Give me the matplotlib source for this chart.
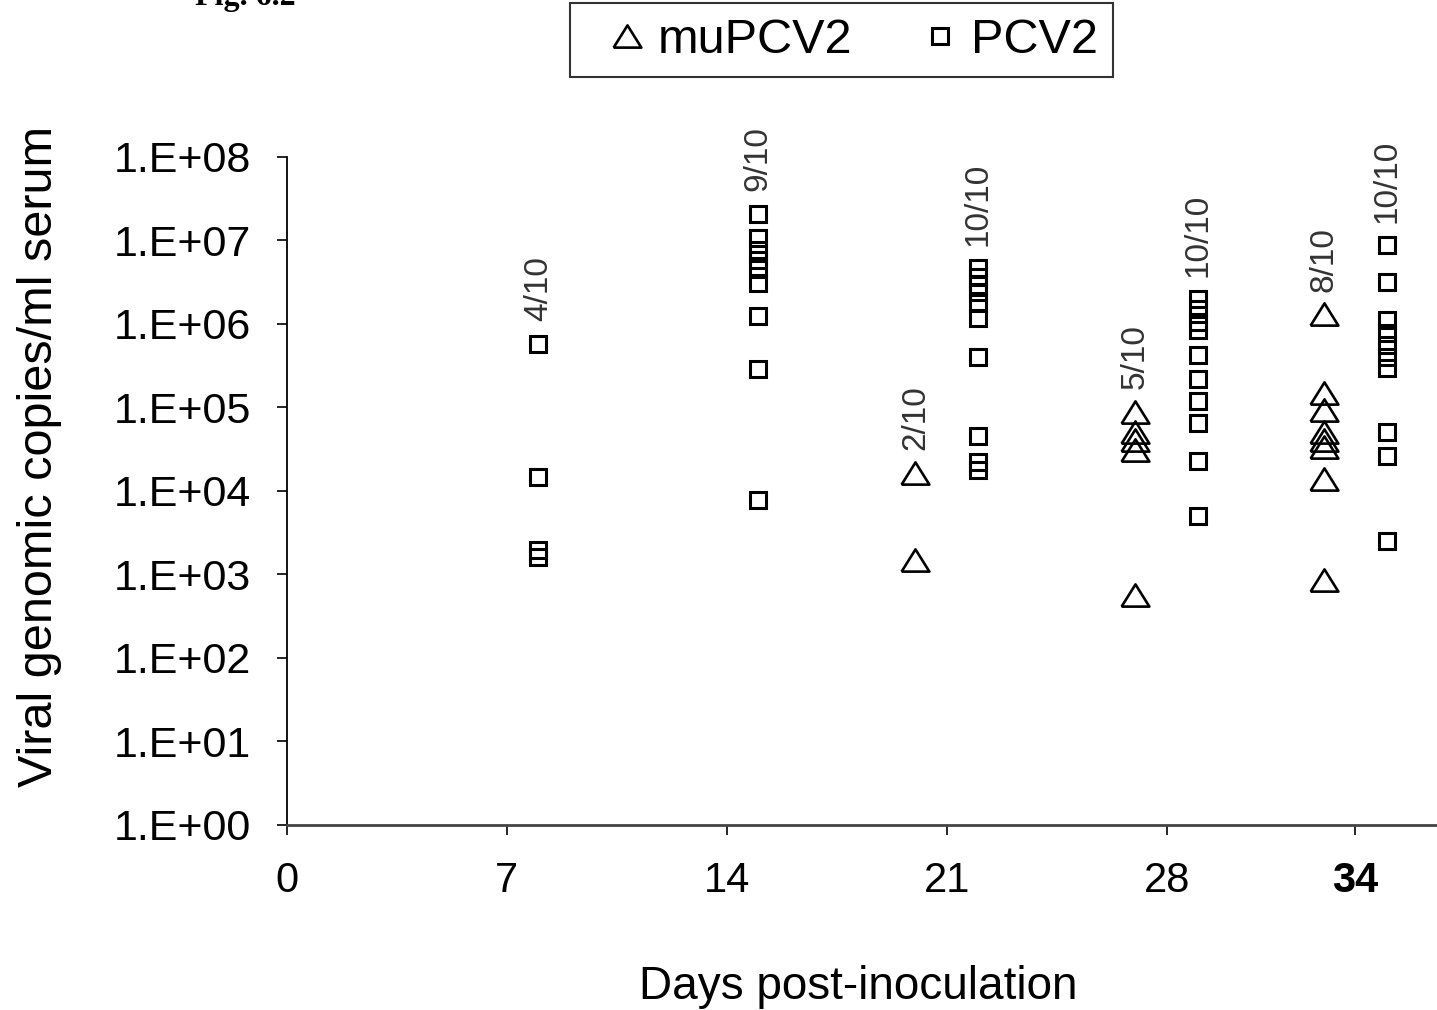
import numpy as np
import matplotlib
matplotlib.use("Agg")
import matplotlib.pyplot as plt
from matplotlib.ticker import FixedLocator, FixedFormatter

# global formatting
matplotlib.rcParams['font.family'] = ['Liberation Sans', 'DejaVu Sans']
matplotlib.rcParams['text.color'] = 'black'

# data: sampling day -> viral copies/ml serum
mu_days = [20, 27, 33]
mu_values = [
    [1.66e4, 1.5e3],
    [8.9e4, 5.1e4, 4.1e4, 3.1e4, 5.6e2],
    [1.3e6, 1.5e5, 9.3e4, 5.1e4, 4.1e4, 3.4e4, 1.4e4, 8.5e2],
]
mu_labels = ["2/10", "5/10", "8/10"]

pcv_days = [8, 15, 22, 29, 35]
pcv_values = [
    [5.8e5, 1.47e4, 1.96e3, 1.6e3],
    [2.1e7, 1.07e7, 7.7e6, 5.9e6, 4.5e6, 3.1e6, 1.25e6, 2.9e5, 7.8e3],
    [4.7e6, 3.7e6, 2.9e6, 2.4e6, 1.8e6, 1.18e6, 4.0e5, 4.6e4, 2.2e4, 1.8e4],
    [2.0e6, 1.5e6, 1.05e6, 8.5e5, 4.2e5, 2.2e5, 1.2e5, 6.5e4, 2.3e4, 5.0e3],
    [8.8e6, 3.2e6, 1.12e6, 7.8e5, 5.6e5, 4.0e5, 3.0e5, 5.1e4, 2.6e4, 2.5e3],
]
pcv_labels = ["4/10", "9/10", "10/10", "10/10", "10/10"]

x_ticks = [0, 7, 14, 21, 28, 34]
y_ticks = [10.0 ** k for k in range(0, 9)]
y_ticklabels = ["1.E+%02d" % k for k in range(0, 9)]

tri = [(-1, -0.8), (1, -0.8), (0, 0.8), (-1, -0.8)]

fig = plt.figure(figsize=(14.37, 10.10), dpi=100)
ax = fig.add_axes([0.1997, 0.1832, 0.8003, 0.6614])

for d, vals in zip(mu_days, mu_values):
    ax.plot([d] * len(vals), vals, linestyle='none', marker=tri, ms=20,
            mfc='none', mec='black', mew=1.9, label='muPCV2' if d == mu_days[0] else None)
for d, vals in zip(pcv_days, pcv_values):
    ax.plot([d] * len(vals), vals, linestyle='none', marker='s', ms=11,
            mfc='none', mec='black', mew=2.2, label='PCV2' if d == pcv_days[0] else None)

# n positive / n total above each group
for d, vals, lab in list(zip(mu_days, mu_values, mu_labels)) + list(zip(pcv_days, pcv_values, pcv_labels)):
    ax.annotate(lab, (d, max(vals)), xytext=(0, 16), textcoords='offset points',
                rotation=90, ha='center', va='bottom', fontsize=24, color='#333333')

ax.set_yscale('log')
ax.set_ylim(1, 1e8)
ax.set_xlim(0, 36.6)
ax.yaxis.set_major_locator(FixedLocator(y_ticks))
ax.yaxis.set_major_formatter(FixedFormatter(y_ticklabels))
ax.yaxis.set_minor_locator(FixedLocator([]))
ax.set_xticks(x_ticks)
ax.set_xticklabels([str(t) for t in x_ticks])
ax.get_xticklabels()[-1].set_fontweight('bold')

for s in ['top', 'right']:
    ax.spines[s].set_visible(False)
ax.spines['left'].set_linewidth(1.3)
ax.spines['bottom'].set_linewidth(2.0)
ax.spines['bottom'].set_color('#444444')
ax.tick_params(axis='both', direction='out', length=7, width=1.2, labelsize=30, pad=19)
ax.tick_params(axis='y', labelsize=31)

ax.set_ylabel('Viral genomic copies/ml serum', fontsize=35)
ax.yaxis.set_label_coords(-0.196, 0.551)
ax.set_xlabel('Days post-inoculation', fontsize=33)
ax.xaxis.set_label_coords(0.497, -0.21)

leg = fig.legend(loc='center', bbox_to_anchor=(0.5856, 0.960), ncol=2, fontsize=35,
                 frameon=True, fancybox=False, edgecolor='black', borderpad=0.3,
                 handletextpad=-0.23, columnspacing=0.95, handlelength=1.73)
leg.get_frame().set_linewidth(1.5)

fig.text(195 / 1437, 1 - 5 / 1010, 'Fig. 6.2', family='Liberation Serif', fontweight='bold',
         fontsize=23, va='baseline', ha='left')

fig.savefig('out.png', dpi=100)
